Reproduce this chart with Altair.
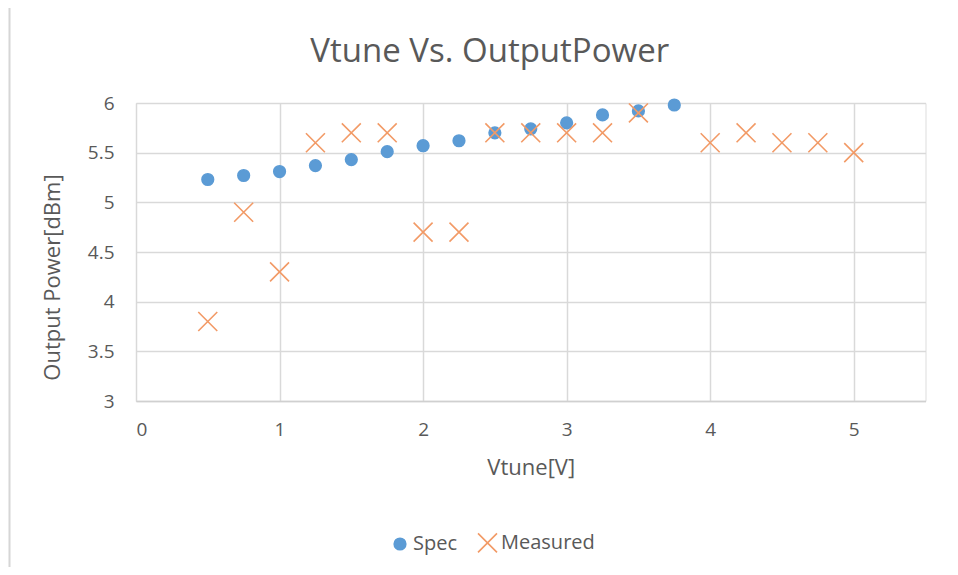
import altair as alt
import pandas as pd

vtune_spec = [0.5, 0.75, 1.0, 1.25, 1.5, 1.75, 2.0, 2.25, 2.5, 2.75, 3.0, 3.25, 3.5, 3.75]
power_spec = [5.23, 5.27, 5.31, 5.37, 5.43, 5.51, 5.57, 5.62, 5.70, 5.74, 5.80, 5.88, 5.92, 5.98]

vtune_meas = [0.5, 0.75, 1.0, 1.25, 1.5, 1.75, 2.0, 2.25, 2.5, 2.75, 3.0, 3.25, 3.5,
              4.0, 4.25, 4.5, 4.75, 5.0]
power_meas = [3.8, 4.9, 4.3, 5.6, 5.7, 5.7, 4.7, 4.7, 5.7, 5.7, 5.7, 5.7, 5.9,
              5.6, 5.7, 5.6, 5.6, 5.5]

series_names = ["Spec", "Measured"]
x_ticks = [0, 1, 2, 3, 4, 5]
y_ticks = [3, 3.5, 4, 4.5, 5, 5.5, 6]

df = pd.concat([
    pd.DataFrame({"Vtune": vtune_spec, "Power": power_spec, "Series": "Spec"}),
    pd.DataFrame({"Vtune": vtune_meas, "Power": power_meas, "Series": "Measured"}),
], ignore_index=True)

FONT = "Open Sans"
TXT = "#595959"
GRID = "#D9D9D9"
X_PATH = "M-1,-1L1,1M-1,1L1,-1"

W, H = 789.5, 298

points = alt.Chart(df).mark_point(filled=False, opacity=1, strokeWidth=1.6).encode(
    x=alt.X("Vtune:Q",
            scale=alt.Scale(domain=[0, 5.5], nice=False, zero=False),
            axis=alt.Axis(values=x_ticks, title="Vtune[V]", format="~g",
                          grid=True, gridColor=GRID, gridWidth=1.5,
                          domainColor="#D0D0D0", domainWidth=1.5,
                          ticks=False, tickSize=0, labelPadding=19,
                          labelFont=FONT, labelFontSize=19, labelColor=TXT,
                          titleFont=FONT, titleFontSize=22, titleColor=TXT,
                          titleFontWeight="normal", titleBaseline="middle",
                          titleY=66, titleX=W / 2)),
    y=alt.Y("Power:Q",
            scale=alt.Scale(domain=[3, 6], nice=False, zero=False),
            axis=alt.Axis(values=y_ticks, title="Output Power[dBm]", format="~g",
                          grid=True, gridColor=GRID, gridWidth=1.5,
                          domain=False, ticks=False, tickSize=0, labelPadding=22,
                          labelFont=FONT, labelFontSize=19, labelColor=TXT,
                          titleFont=FONT, titleFontSize=22, titleColor=TXT,
                          titleFontWeight="normal", titleAngle=270,
                          titleBaseline="middle", titleAlign="center",
                          titleX=-83.5, titleY=174)),
    color=alt.Color("Series:N",
                    scale=alt.Scale(domain=series_names, range=["#5B9BD5", "#F29A66"]),
                    legend=alt.Legend(title=None, orient="none", direction="horizontal",
                                      legendX=254, legendY=429,
                                      labelFont=FONT, labelFontSize=20, labelColor=TXT,
                                      labelOffset=3, columnPadding=16,
                                      symbolStrokeWidth=1.6)),
    fill=alt.Fill("Series:N",
                  scale=alt.Scale(domain=series_names, range=["#5B9BD5", "transparent"]),
                  legend=None),
    shape=alt.Shape("Series:N",
                    scale=alt.Scale(domain=series_names, range=["circle", X_PATH]),
                    legend=None),
    size=alt.Size("Series:N",
                  scale=alt.Scale(domain=series_names, range=[135, 360]),
                  legend=None),
)

border = alt.Chart(alt.Data(values=[{"a": 1}])).mark_rect(color="#D6D6D6")
top_line = border.encode(x=alt.value(-127.5), x2=alt.value(W + 30),
                         y=alt.value(-98.5), y2=alt.value(-96.5))
left_line = border.encode(x=alt.value(-127.5), x2=alt.value(-125.5),
                          y=alt.value(-98.5), y2=alt.value(H + 180))

chart = alt.layer(top_line, left_line, points).properties(
    width=W, height=H,
    title=alt.TitleParams("Vtune Vs. OutputPower", font=FONT, fontSize=33,
                          fontWeight="normal", color=TXT, anchor="middle",
                          dx=-41, offset=-64),
    padding={"left": 128, "top": 95, "right": 24.5, "bottom": 166},
    autosize=alt.AutoSizeParams(type="none"),
).configure_view(stroke=None).configure(background="white")

chart.save("out.html", embed_options={"renderer": "svg", "actions": False})
